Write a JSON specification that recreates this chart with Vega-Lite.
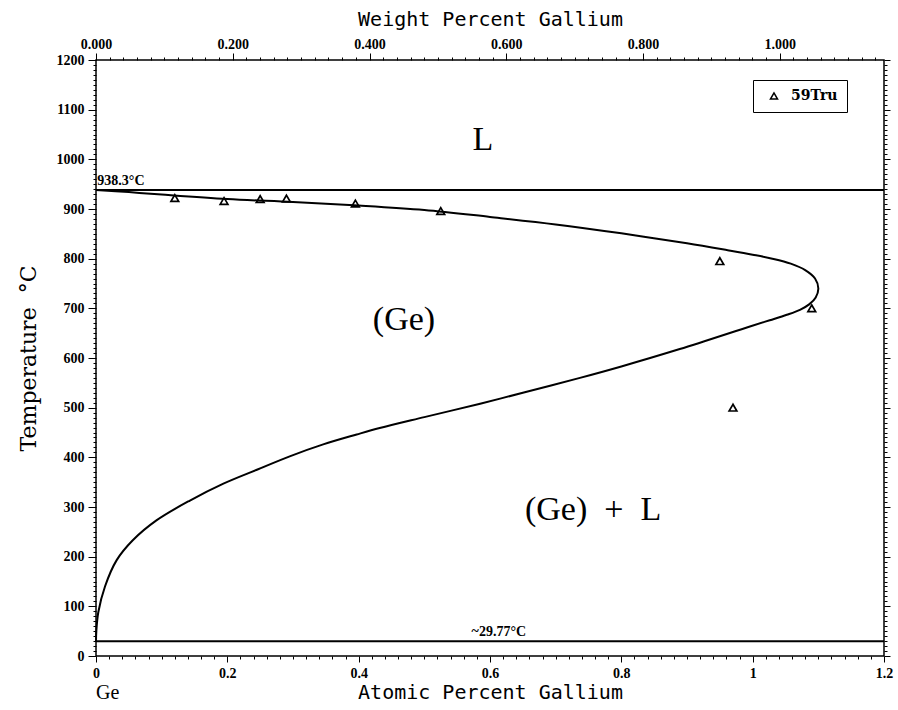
{
  "$schema": "https://vega.github.io/schema/vega-lite/v6.json",
  "width": 788,
  "height": 596,
  "autosize": {"type": "none"},
  "padding": {"left": 96, "top": 60, "right": 14, "bottom": 54},
  "background": "white",
  "datasets": {
    "curve": [
      {"i": 0, "x": 0, "t": 938.3},
      {"i": 1, "x": 0.05, "t": 934},
      {"i": 2, "x": 0.1, "t": 929},
      {"i": 3, "x": 0.2, "t": 920},
      {"i": 4, "x": 0.3, "t": 914},
      {"i": 5, "x": 0.4, "t": 907},
      {"i": 6, "x": 0.5, "t": 898},
      {"i": 7, "x": 0.6, "t": 884},
      {"i": 8, "x": 0.7, "t": 869},
      {"i": 9, "x": 0.8, "t": 851},
      {"i": 10, "x": 0.9, "t": 831},
      {"i": 11, "x": 0.962, "t": 817},
      {"i": 12, "x": 1.0, "t": 808},
      {"i": 13, "x": 1.03, "t": 800},
      {"i": 14, "x": 1.058, "t": 790},
      {"i": 15, "x": 1.08, "t": 777},
      {"i": 16, "x": 1.095, "t": 760},
      {"i": 17, "x": 1.1, "t": 740},
      {"i": 18, "x": 1.096, "t": 722},
      {"i": 19, "x": 1.086, "t": 708},
      {"i": 20, "x": 1.072, "t": 697},
      {"i": 21, "x": 1.052, "t": 687},
      {"i": 22, "x": 1.026, "t": 676},
      {"i": 23, "x": 0.997, "t": 664},
      {"i": 24, "x": 0.889, "t": 618},
      {"i": 25, "x": 0.8, "t": 583},
      {"i": 26, "x": 0.737, "t": 560},
      {"i": 27, "x": 0.65, "t": 530},
      {"i": 28, "x": 0.585, "t": 508},
      {"i": 29, "x": 0.5, "t": 481},
      {"i": 30, "x": 0.432, "t": 459},
      {"i": 31, "x": 0.397, "t": 446},
      {"i": 32, "x": 0.346, "t": 426},
      {"i": 33, "x": 0.295, "t": 402},
      {"i": 34, "x": 0.245, "t": 375},
      {"i": 35, "x": 0.194, "t": 347},
      {"i": 36, "x": 0.143, "t": 313},
      {"i": 37, "x": 0.092, "t": 273},
      {"i": 38, "x": 0.056, "t": 233},
      {"i": 39, "x": 0.0315, "t": 193},
      {"i": 40, "x": 0.0137, "t": 140},
      {"i": 41, "x": 0.0035, "t": 88},
      {"i": 42, "x": 0.0005, "t": 50},
      {"i": 43, "x": 0, "t": 29.77}
    ],
    "pts": [
      {"x": 0.12, "t": 922, "src": "59Tru"},
      {"x": 0.195, "t": 916, "src": "59Tru"},
      {"x": 0.25, "t": 920, "src": "59Tru"},
      {"x": 0.29, "t": 921, "src": "59Tru"},
      {"x": 0.395, "t": 911, "src": "59Tru"},
      {"x": 0.525, "t": 896, "src": "59Tru"},
      {"x": 0.95, "t": 795, "src": "59Tru"},
      {"x": 1.09, "t": 700, "src": "59Tru"},
      {"x": 0.97, "t": 500, "src": "59Tru"}
    ],
    "lines": [{"t": 938.3}, {"t": 29.77}],
    "tlabels": [
      {"x": 0.002, "t": 938.3, "label": "938.3°C"},
      {"x": 0.572, "t": 29.77, "label": "~29.77°C"}
    ],
    "regions": [
      {"x": 0.589, "t": 1039, "label": "L"},
      {"x": 0.469, "t": 676, "label": "(Ge)"},
      {"x": 0.757, "t": 294, "label": "(Ge)\u00a0\u00a0+\u00a0\u00a0L"}
    ],
    "ge": [{"x": 0, "t": -75, "label": "Ge"}]
  },
  "config": {
    "view": {"stroke": "black", "strokeWidth": 1.5},
    "axis": {
      "grid": false,
      "domain": false,
      "tickColor": "black",
      "tickWidth": 1,
      "labelColor": "black",
      "titleColor": "black",
      "labelFont": "Liberation Serif",
      "labelFontSize": 14,
      "labelFontWeight": "bold",
      "labelOverlap": false,
      "labelFlush": false
    }
  },
  "layer": [
    {
      "data": {"name": "curve"},
      "mark": {"type": "line", "color": "black", "strokeWidth": 2, "interpolate": "catmull-rom"},
      "encoding": {
        "x": {
          "field": "x", "type": "quantitative",
          "scale": {"domain": [0, 1.2], "nice": false, "zero": false},
          "axis": {
            "orient": "bottom", "tickCount": 60,
            "labelExpr": "abs(datum.value*5 - round(datum.value*5)) < 0.000001 ? format(datum.value, '~g') : ''",
            "tickSize": {"condition": {"test": "abs(datum.value*5 - round(datum.value*5)) < 0.000001", "value": 6}, "value": 3},
            "labelPadding": 4,
            "title": "Atomic Percent Gallium", "titleFont": "DejaVu Sans Mono",
            "titleFontSize": 20, "titleFontWeight": "normal", "titlePadding": 2
          }
        },
        "y": {
          "field": "t", "type": "quantitative",
          "scale": {"domain": [0, 1200], "nice": false, "zero": false},
          "axis": {
            "orient": "left", "tickCount": 120,
            "labelExpr": "datum.value % 100 === 0 ? format(datum.value, 'd') : ''",
            "tickSize": {"condition": {"test": "datum.value % 100 === 0", "value": 8}, "value": 3},
            "labelPadding": 4,
            "title": "Temperature\u00a0\u00a0°C", "titleFont": "DejaVu Serif",
            "titleFontSize": 22, "titleFontWeight": "normal", "titlePadding": 16
          }
        },
        "order": {"field": "i", "type": "quantitative"}
      }
    },
    {
      "data": {"name": "pts"},
      "mark": {"type": "point", "filled": false, "color": "black", "size": 60, "strokeWidth": 1.7, "opacity": 1},
      "encoding": {
        "x": {"field": "x", "type": "quantitative", "axis": null},
        "y": {"field": "t", "type": "quantitative", "axis": null},
        "shape": {
          "field": "src", "type": "nominal",
          "scale": {"range": ["triangle-up"]},
          "legend": {
            "orient": "none", "legendX": 657, "legendY": 20, "title": null,
            "padding": 9, "strokeColor": "black",
            "labelFont": "DejaVu Serif", "labelFontSize": 14, "labelFontWeight": "bold",
            "labelColor": "black",
            "symbolStrokeColor": "black", "symbolStrokeWidth": 1.5, "symbolSize": 50,
            "symbolOpacity": 1,
            "symbolOffset": 5, "labelOffset": 10
          }
        }
      }
    },
    {
      "data": {"name": "lines"},
      "mark": {"type": "rule", "color": "black", "strokeWidth": 2},
      "encoding": {
        "y": {
          "field": "t", "type": "quantitative",
          "axis": {
            "orient": "right", "tickCount": 120, "labels": false, "title": null,
            "tickSize": {"condition": {"test": "datum.value % 100 === 0", "value": 6}, "value": 3}
          }
        }
      }
    },
    {
      "data": {"name": "tlabels"},
      "mark": {"type": "text", "align": "left", "baseline": "bottom", "dy": -2,
               "font": "Liberation Serif", "fontSize": 14, "fontWeight": "bold", "color": "black"},
      "encoding": {
        "x": {
          "field": "x", "type": "quantitative",
          "axis": {
            "orient": "top",
            "values": [0, 0.020825, 0.04165, 0.062475, 0.0833, 0.104125, 0.12495, 0.145775, 0.1666, 0.187425, 0.20825, 0.229075, 0.2499, 0.270725, 0.29155, 0.312375, 0.3332, 0.354025, 0.37485, 0.395675, 0.4165, 0.437325, 0.45815, 0.478975, 0.4998, 0.520625, 0.54145, 0.562275, 0.5831, 0.603925, 0.62475, 0.645575, 0.6664, 0.687225, 0.70805, 0.728875, 0.7497, 0.770525, 0.79135, 0.812175, 0.833, 0.853825, 0.87465, 0.895475, 0.9163, 0.937125, 0.95795, 0.978775, 0.9996, 1.020425, 1.04125, 1.062075, 1.0829, 1.103725, 1.12455, 1.145375, 1.1662, 1.187025],
            "labelExpr": "round(datum.value/0.020825) % 10 === 0 ? format(round(datum.value/0.020825)*0.02, '.3f') : ''",
            "tickSize": {"condition": {"test": "round(datum.value/0.020825) % 10 === 0", "value": 7}, "value": 3},
            "labelPadding": 2,
            "title": "Weight Percent Gallium", "titleFont": "DejaVu Sans Mono",
            "titleFontSize": 20, "titleFontWeight": "normal", "titlePadding": 8
          }
        },
        "y": {"field": "t", "type": "quantitative", "axis": null},
        "text": {"field": "label"}
      }
    },
    {
      "data": {"name": "regions"},
      "mark": {"type": "text", "align": "center", "baseline": "middle",
               "font": "Liberation Serif", "fontSize": 34, "color": "black"},
      "encoding": {
        "x": {"field": "x", "type": "quantitative", "axis": null},
        "y": {"field": "t", "type": "quantitative", "axis": null},
        "text": {"field": "label"}
      }
    },
    {
      "data": {"name": "ge"},
      "mark": {"type": "text", "align": "left", "baseline": "middle",
               "font": "Liberation Serif", "fontSize": 20, "color": "black"},
      "encoding": {
        "x": {"field": "x", "type": "quantitative", "axis": null},
        "y": {"field": "t", "type": "quantitative", "axis": null},
        "text": {"field": "label"}
      }
    }
  ]
}
